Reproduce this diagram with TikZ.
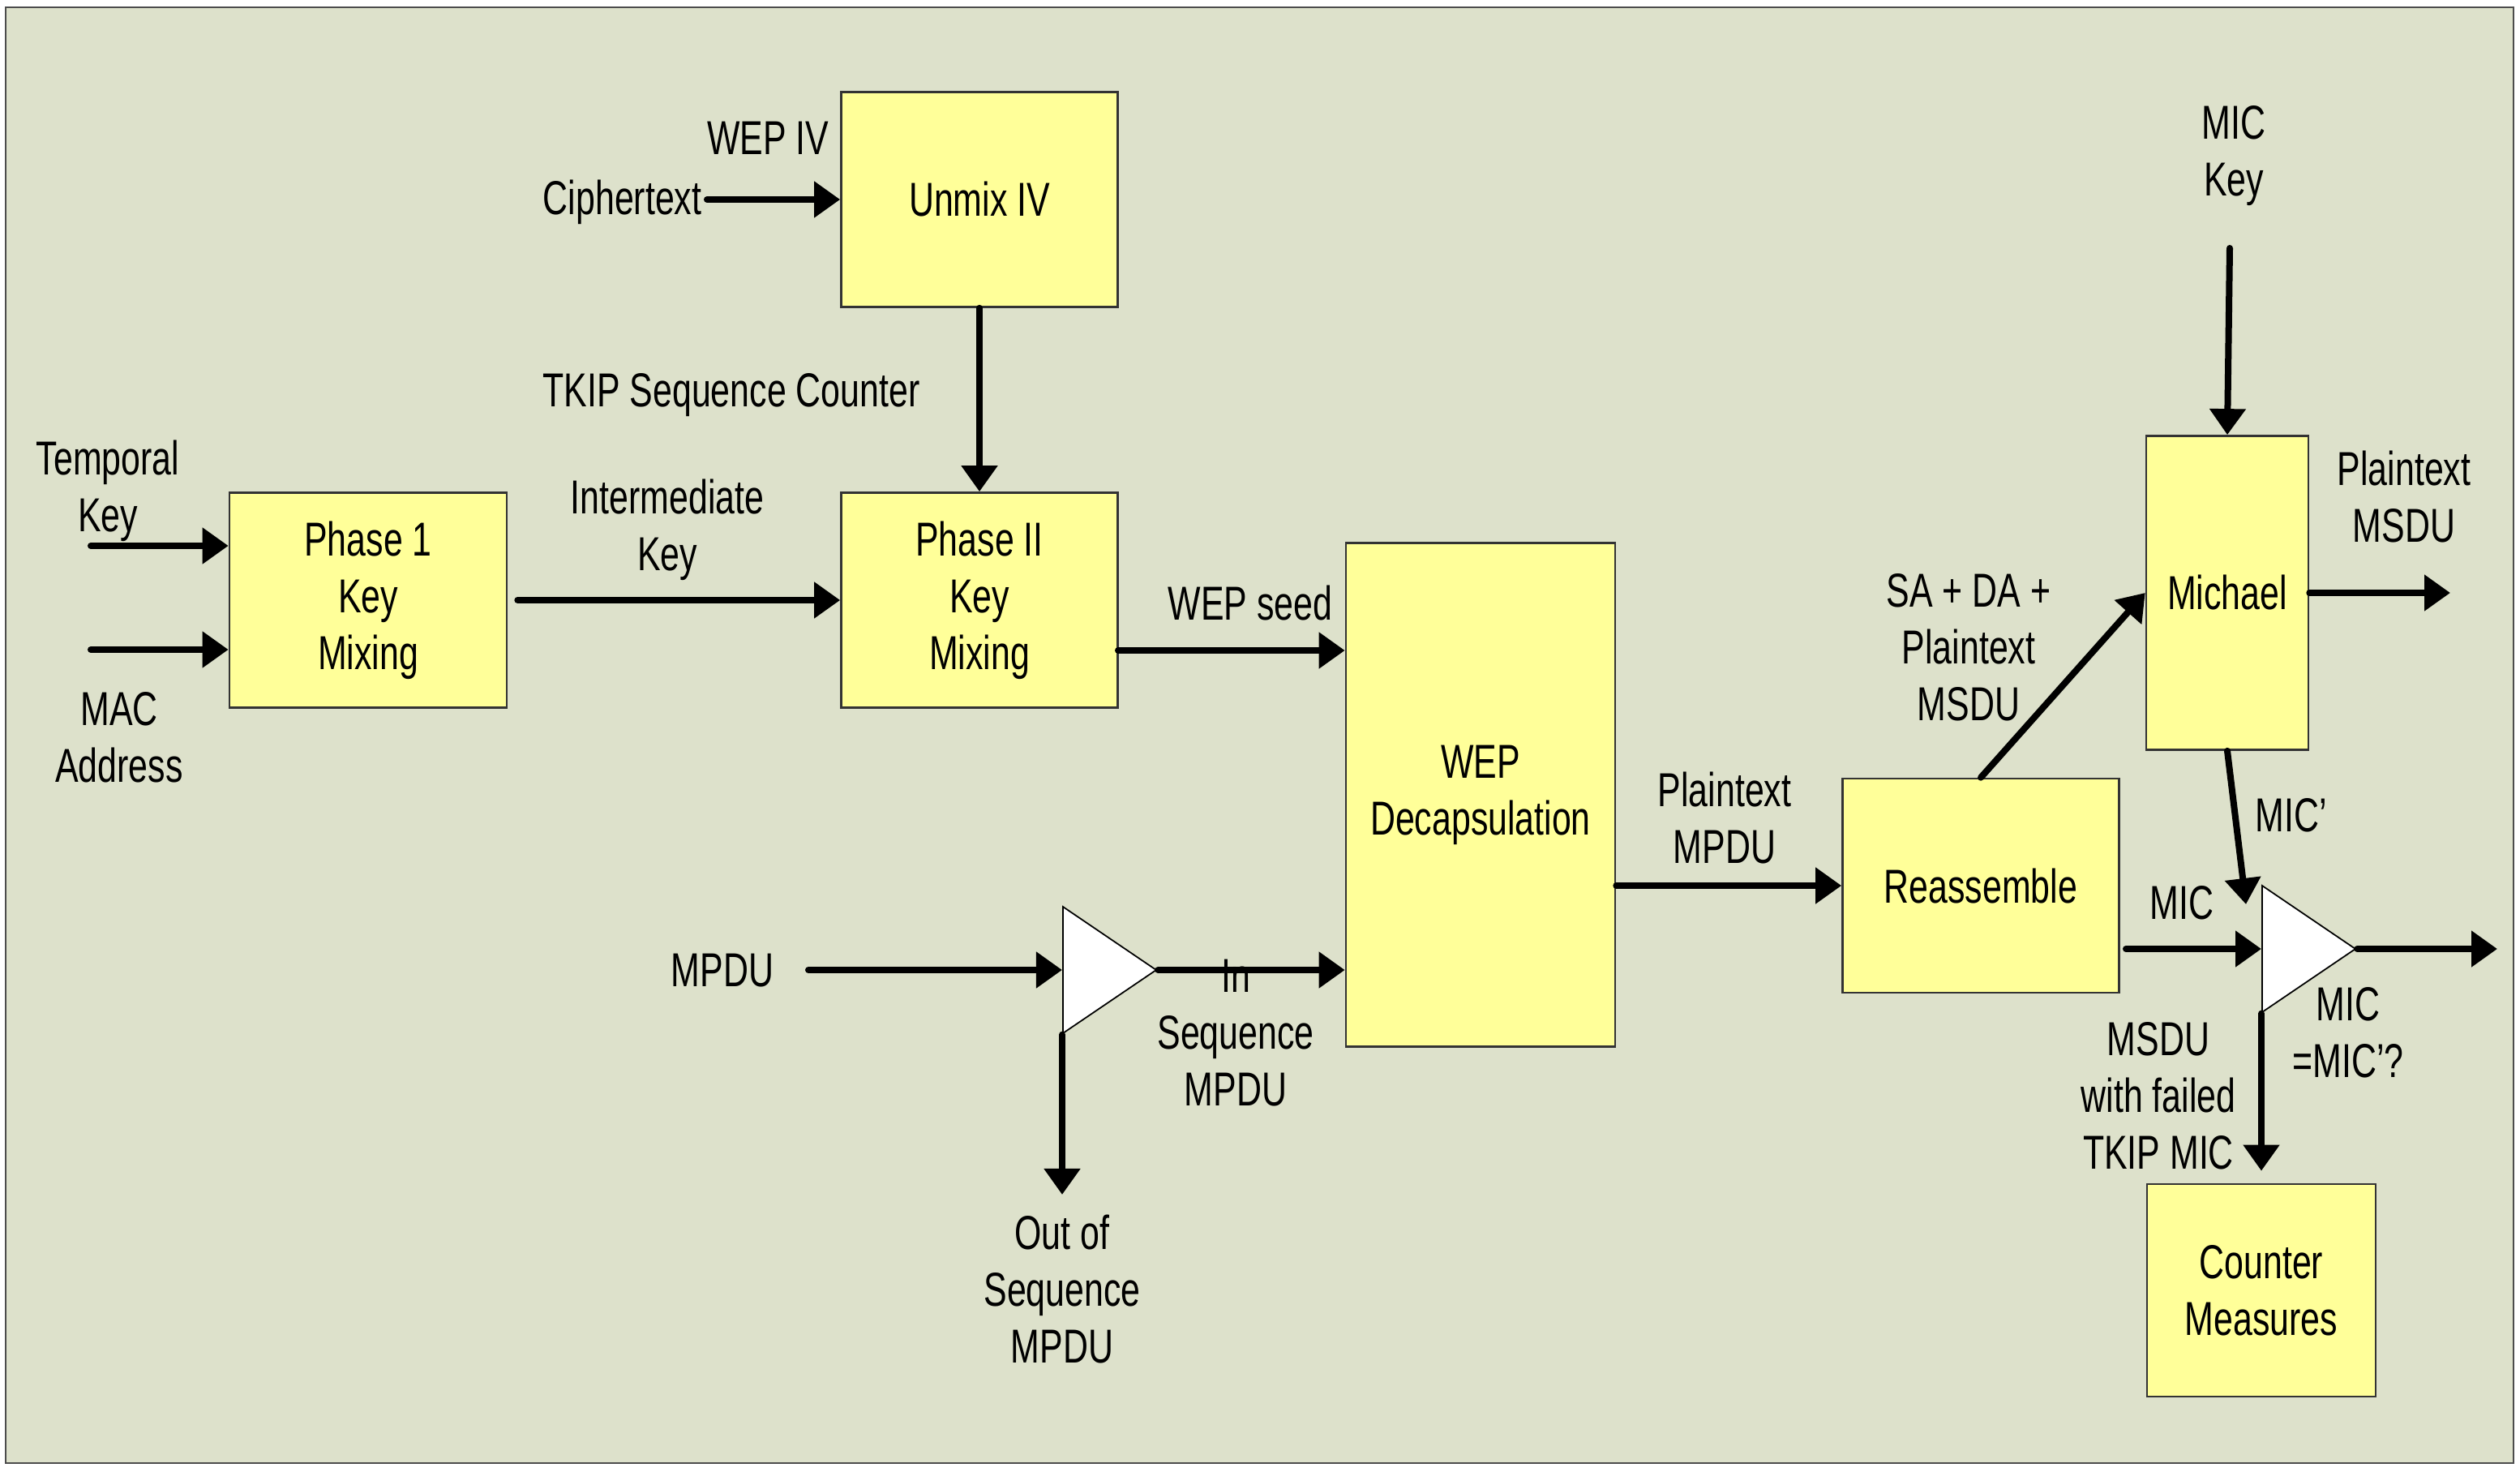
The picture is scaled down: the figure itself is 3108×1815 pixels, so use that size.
\documentclass[tikz,border=0pt]{standalone}
\usepackage{fontspec}
\newfontfamily\narrowsans{Liberation Sans}[FakeStretch=0.73]
\usetikzlibrary{arrows.meta,shapes.geometric}
\definecolor{bgcol}{RGB}{221,225,203}
\definecolor{blkcol}{RGB}{255,255,153}

\begin{document}
\begin{tikzpicture}[x=0.01cm,y=-0.01cm,
    font=\narrowsans\fontsize{16.7}{19.9}\selectfont,
    blk/.style={draw=black!80,line width=0.7pt,fill=blkcol,align=center,inner sep=0pt},
    lbl/.style={align=center,inner sep=0pt,anchor=base},
    flow/.style={line width=0.08cm,line cap=round,-{Triangle[length=0.32cm,width=0.43cm]}},
    cmp/.style={isosceles triangle,isosceles triangle stretches,draw,fill=white,line width=0.5pt,
      minimum width=1.56cm,minimum height=1.15cm,inner sep=0pt,anchor=lower side}]
  \useasboundingbox (0,0) rectangle (3108,1815);
  \draw[black!70,line width=0.8pt,fill=bgcol] (7,9) rectangle (3100,1804);

  \node[blk,minimum width=3.41cm,minimum height=2.65cm] (unmix) at (1208,246) {Unmix IV};
  \node[blk,minimum width=3.42cm,minimum height=2.65cm] (phase1) at (454,740) {Phase 1\\Key\\Mixing};
  \node[blk,minimum width=3.41cm,minimum height=2.65cm] (phase2) at (1208,740) {Phase II\\Key\\Mixing};
  \node[blk,minimum width=3.32cm,minimum height=6.21cm] (wep) at (1826,980) {WEP\\Decapsulation};
  \node[blk,minimum width=3.41cm,minimum height=2.64cm] (reasm) at (2443,1092) {Reassemble};
  \node[blk,minimum width=2.00cm,minimum height=3.87cm] (michael) at (2747,731) {Michael};
  \node[blk,minimum width=2.82cm,minimum height=2.62cm] (counter) at (2789,1591) {Counter\\Measures};
  \node[cmp] (seqchk) at (1310,1196) {};
  \node[cmp] (micchk) at (2789,1170) {};

  \coordinate (ctin) at (872,246);
  \coordinate (tkin) at (112,673);
  \coordinate (macin) at (112,801);
  \coordinate (seedout) at (1379,802);
  \coordinate (mpduin) at (997,1196);
  \coordinate (oosout) at (1310,1473);
  \coordinate (mickeyin) at (2750,306);
  \coordinate (msduout) at (3022,731);
  \coordinate (micpend) at (2770,1115);
  \coordinate (micin) at (2622,1170);
  \coordinate (okout) at (3080,1170);

  \draw[flow] (ctin) -- (unmix.west);
  \draw[flow] (unmix) -- (phase2);
  \draw[flow] (tkin) -- (tkin -| phase1.west);
  \draw[flow] (macin) -- (macin -| phase1.west);
  \draw[flow,shorten <=0.12cm] (phase1) -- (phase2);
  \draw[flow] (seedout) -- (seedout -| wep.west);
  \draw[flow] (mpduin) -- (seqchk.lower side);
  \draw[flow] (seqchk.apex) -- (seqchk.apex -| wep.west);
  \draw[flow] (seqchk.right corner) -- (oosout);
  \draw[flow] (reasm.west -| wep.east) -- (reasm.west);
  \draw[flow] (reasm.north) -- (michael.west);
  \draw[flow] (mickeyin) -- (michael.north);
  \draw[flow] (michael.east) -- (msduout);
  \draw[flow] (michael.south) -- (micpend);
  \draw[flow] (micin) -- (micchk.lower side);
  \draw[flow] (micchk.apex) -- (okout);
  \draw[flow,shorten >=0.15cm] (micchk.right corner) -- (counter.north);

  \node[lbl,anchor=base east] (wepiv) at (1023,190) {WEP IV};
  \node[lbl,anchor=base east] (cipher) at (866,264) {Ciphertext};
  \node[lbl] (tkip) at (902,501) {TKIP Sequence Counter};
  \node[lbl] (temporal) at (133,655) {Temporal\\Key};
  \node[lbl] (mac) at (147,964) {MAC\\Address};
  \node[lbl] (ikey) at (823,703) {Intermediate\\Key};
  \node[lbl] (seed) at (1542,764) {WEP seed};
  \node[lbl] (mpdu) at (891,1216) {MPDU};
  \node[lbl] (inseq) at (1524,1363) {In\\Sequence\\MPDU};
  \node[lbl] (outseq) at (1310,1680) {Out of\\Sequence\\MPDU};
  \node[lbl] (ptmpdu) at (2127,1064) {Plaintext\\MPDU};
  \node[lbl] (sada) at (2428,888) {SA + DA +\\Plaintext\\MSDU};
  \node[lbl] (mickey) at (2755,241) {MIC\\Key};
  \node[lbl] (ptmsdu) at (2965,668) {Plaintext\\MSDU};
  \node[lbl] (micp) at (2826,1025) {MIC’};
  \node[lbl] (mic) at (2691,1133) {MIC};
  \node[lbl] (eq) at (2896,1328) {MIC\\=MIC’?};
  \node[lbl] (failed) at (2662,1441) {MSDU\\with failed\\TKIP MIC};
\end{tikzpicture}
\end{document}
